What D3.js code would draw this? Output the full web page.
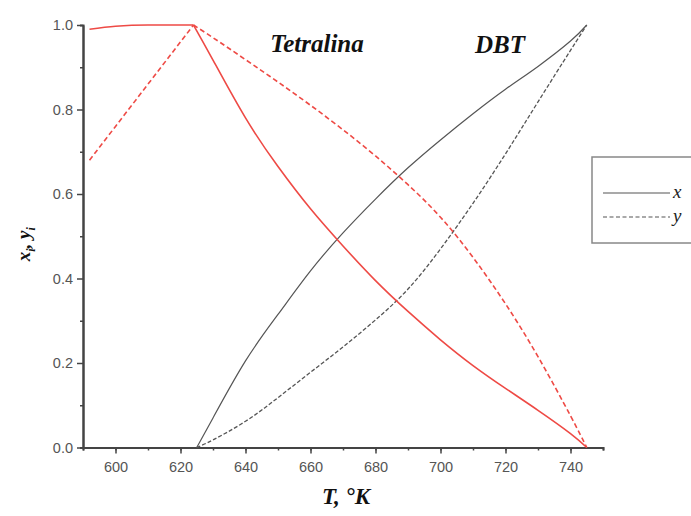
<!DOCTYPE html>
<html>
<head>
<meta charset="utf-8">
<script src="https://cdn.jsdelivr.net/npm/d3@7"></script>
<style>
  body { margin: 0; background: #fff; }
  svg { display: block; }
</style>
</head>
<body>
<div id="chart"></div>
<script>
// temperatures (K) and mole fractions
// Tetralina: low-T branch (before the peak) and high-T branch
const tetT1 = [592, 600, 610, 624];
const tetX1 = [0.99, 0.997, 1.0, 1.0];
const tetY1 = [0.68, 0.76, 0.86, 1.0];

const tetT2 = [624, 630, 640, 650, 660, 670, 680, 690, 700, 710, 720, 730, 740, 745];
const tetX2 = [1.0, 0.917, 0.78, 0.665, 0.565, 0.477, 0.395, 0.322, 0.255, 0.194, 0.14, 0.088, 0.033, 0.0];
const tetY2 = [1.0, 0.97, 0.918, 0.865, 0.81, 0.752, 0.69, 0.622, 0.545, 0.45, 0.34, 0.215, 0.075, 0.0];

const dbtT = [625, 630, 640, 650, 660, 670, 680, 690, 700, 710, 720, 730, 740, 745];
const dbtX = [0.0, 0.07, 0.205, 0.315, 0.418, 0.508, 0.588, 0.662, 0.728, 0.79, 0.848, 0.902, 0.962, 1.0];
const dbtY = [0.0, 0.018, 0.062, 0.118, 0.178, 0.238, 0.302, 0.375, 0.47, 0.578, 0.695, 0.818, 0.94, 1.0];

const xTicks = [600, 620, 640, 660, 680, 700, 720, 740];
const yTicks = [0.0, 0.2, 0.4, 0.6, 0.8, 1.0];

const width = 691, height = 516;
const margin = { top: 25, right: 88, bottom: 68, left: 83 };

const svg = d3.select("#chart").append("svg")
  .attr("width", width)
  .attr("height", height);

const x = d3.scaleLinear().domain([590, 750]).range([margin.left, width - margin.right]);
const y = d3.scaleLinear().domain([0, 1]).range([height - margin.bottom - 0.5, margin.top]);

const serif = "'Liberation Serif', 'Times New Roman', serif";
const sans = "'Liberation Sans', Arial, sans-serif";
const red = "#ee4a45";
const gray = "#555";

// minor ticks
const xAxisMinor = d3.axisBottom(x).tickValues(d3.range(590, 751, 10)).tickSize(3).tickFormat("");
const yAxisMinor = d3.axisLeft(y).tickValues(d3.range(0.1, 1, 0.2)).tickSize(3).tickFormat("");

svg.append("g").attr("transform", `translate(0,${y(0)})`).call(xAxisMinor);
svg.append("g").attr("transform", `translate(${x(590)},0)`).call(yAxisMinor);

const xAxis = d3.axisBottom(x).tickValues(xTicks).tickSize(6).tickSizeOuter(0).tickPadding(8);
const yAxis = d3.axisLeft(y).tickValues(yTicks).tickSize(6).tickSizeOuter(0).tickPadding(4).tickFormat(d3.format(".1f"));

svg.append("g").attr("class", "axis").attr("transform", `translate(0,${y(0)})`).call(xAxis);
svg.append("g").attr("class", "axis").attr("transform", `translate(${x(590)},0)`).call(yAxis);

svg.selectAll(".domain").attr("stroke", "#444").attr("stroke-width", 2);
svg.selectAll(".tick line").attr("stroke", "#444").attr("stroke-width", 1.5);
svg.selectAll(".axis text")
  .attr("font-family", sans)
  .attr("font-size", "14.5px")
  .attr("fill", "#555");

// curves
const line = (ts, vs, curve) => d3.line().x((d, i) => x(ts[i])).y(d => y(d)).curve(curve || d3.curveNatural)(vs);

svg.append("path").attr("d", line(dbtT, dbtX))
  .attr("fill", "none").attr("stroke", gray).attr("stroke-width", 1.2);
svg.append("path").attr("d", line(dbtT, dbtY))
  .attr("fill", "none").attr("stroke", gray).attr("stroke-width", 1.3).attr("stroke-dasharray", "4,2");

svg.append("path").attr("d", line(tetT1, tetX1, d3.curveMonotoneX))
  .attr("fill", "none").attr("stroke", red).attr("stroke-width", 1.6);
svg.append("path").attr("d", line(tetT2, tetX2))
  .attr("fill", "none").attr("stroke", red).attr("stroke-width", 1.6);
svg.append("path").attr("d", line(tetT1, tetY1, d3.curveLinear))
  .attr("fill", "none").attr("stroke", red).attr("stroke-width", 1.6).attr("stroke-dasharray", "5,3");
svg.append("path").attr("d", line(tetT2, tetY2))
  .attr("fill", "none").attr("stroke", red).attr("stroke-width", 1.6).attr("stroke-dasharray", "5,3");

// component labels
svg.append("text").attr("x", 317).attr("y", 52)
  .attr("text-anchor", "middle")
  .attr("font-family", serif).attr("font-style", "italic").attr("font-weight", "bold")
  .attr("font-size", "25px").attr("fill", "#111")
  .text("Tetralina");
svg.append("text").attr("x", 500).attr("y", 53)
  .attr("text-anchor", "middle")
  .attr("font-family", serif).attr("font-style", "italic").attr("font-weight", "bold")
  .attr("font-size", "25px").attr("fill", "#111")
  .text("DBT");

// axis titles
svg.append("text").attr("x", 346).attr("y", 504)
  .attr("text-anchor", "middle")
  .attr("font-family", serif).attr("font-style", "italic").attr("font-weight", "bold")
  .attr("font-size", "23px").attr("fill", "#111")
  .text("T, \u00b0K");

const yl = svg.append("text")
  .attr("transform", `translate(30,${y(0.5) + 8}) rotate(-90)`)
  .attr("text-anchor", "middle")
  .attr("font-family", serif).attr("font-style", "italic").attr("font-weight", "bold")
  .attr("font-size", "19px").attr("fill", "#111");
yl.append("tspan").text("x");
yl.append("tspan").attr("dy", 5).attr("font-size", "12px").text("i");
yl.append("tspan").attr("dy", -5).text(", y");
yl.append("tspan").attr("dy", 5).attr("font-size", "12px").text("i");

// legend
const legend = svg.append("g").attr("transform", "translate(592,157)");
legend.append("rect").attr("width", 120).attr("height", 86)
  .attr("fill", "#fff").attr("stroke", "#888").attr("stroke-width", 1.5);
const legendItems = [["x", null], ["y", "4,2.5"]];
legendItems.forEach(([lab, dash], i) => {
  const ly = 36 + i * 24;
  legend.append("line").attr("x1", 11).attr("x2", 78).attr("y1", ly).attr("y2", ly)
    .attr("stroke", gray).attr("stroke-width", 1.2)
    .attr("stroke-dasharray", dash);
  legend.append("text").attr("x", 81).attr("y", ly + 5)
    .attr("font-family", serif).attr("font-style", "italic")
    .attr("font-size", "19px").attr("fill", "#222")
    .text(lab);
});
</script>
</body>
</html>
